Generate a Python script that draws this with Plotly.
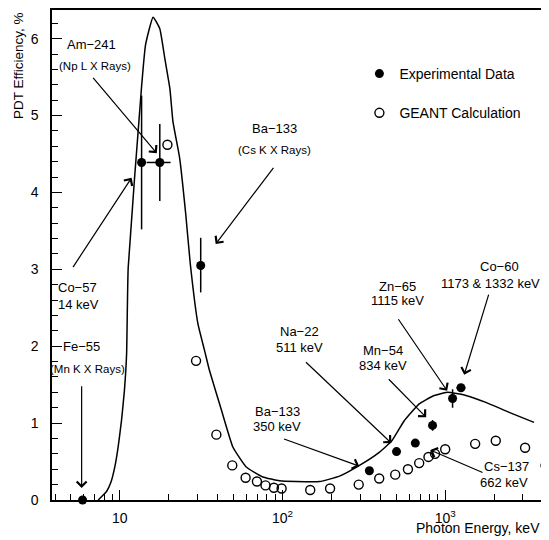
import plotly.graph_objects as go

# ---------------- data ----------------
curve_energy = [7.36, 7.90, 8.28, 8.81, 9.31, 9.79, 10.24, 10.66, 11.0, 11.25, 13.6, 14.38, 16.0,
                17.6, 18.9, 20.3, 21.2, 23.3, 25.4, 27.1, 30.2, 33.2, 35.6, 42.1, 49.5, 59.8,
                75.7, 95.9, 121, 169, 224, 297, 393, 470, 560, 692, 836, 1028, 1340, 1778,
                2472, 3516]
curve_eff = [0.0, 0.065, 0.11, 0.23, 0.43, 0.71, 1.04, 1.42, 1.90, 3.02, 5.38, 5.92, 6.28,
             6.13, 5.74, 5.35, 4.92, 4.45, 3.72, 3.07, 2.29, 1.94, 1.68, 1.17, 0.69, 0.43,
             0.30, 0.25, 0.24, 0.24, 0.31, 0.45, 0.62, 0.77, 1.03, 1.25, 1.35, 1.40, 1.36, 1.27,
             1.14, 1.01]

exp_energy = [5.9, 13.6, 17.6, 31.4, 342, 502, 655, 836, 1110, 1250]
exp_eff = [0.0, 4.39, 4.39, 3.05, 0.38, 0.63, 0.74, 0.97, 1.32, 1.46]
exp_err_y_plus = [0, 0.87, 0.50, 0.36, 0, 0, 0, 0.07, 0.12, 0]
exp_err_y_minus = [0, 0.87, 0.50, 0.35, 0, 0, 0, 0.07, 0.12, 0]
exp_err_x_plus = [0, 0, 2.9, 0, 0, 0, 0, 0, 0, 82]
exp_err_x_minus = [0, 0, 3.0, 0, 0, 0, 0, 0, 0, 77]

geant_energy = [19.6, 29.4, 39.2, 49.1, 59.3, 69.6, 78.6, 88.5, 98.7, 148, 196, 294, 393,
                493, 590, 692, 789, 866, 1000, 1528, 2046, 3098, 4140]
geant_eff = [4.62, 1.81, 0.85, 0.45, 0.29, 0.24, 0.19, 0.16, 0.15, 0.13, 0.15, 0.20, 0.28,
             0.33, 0.40, 0.48, 0.56, 0.60, 0.66, 0.73, 0.77, 0.68, 0.45]

x_tick_vals = [10, 100, 1000]
x_tick_text = ["10", "10<sup>2</sup>", "10<sup>3</sup>"]
x_minor_vals = [4, 5, 6, 7, 8, 9, 20, 30, 40, 50, 60, 70, 80, 90,
                200, 300, 400, 500, 600, 700, 800, 900, 2000, 3000, 4000]
y_tick_vals = [0, 1, 2, 3, 4, 5, 6]

# labels: text, and (log10 x, y, font size)
label_texts = ["Am−241", "(Np L X Rays)", "Ba−133", "(Cs K X Rays)", "Co−57", "14 keV",
               "Fe−55", "(Mn K X Rays)", "Ba−133", "350 keV", "Na−22", "511 keV",
               "Mn−54", "834 keV", "Zn−65", "1115 keV", "Co−60", "1173 & 1332 keV",
               "Cs−137", "662 keV"]
label_pos = [(0.828, 5.93, 13), (0.847, 5.65, 11.5), (1.951, 4.83, 13), (1.951, 4.55, 11.5),
             (0.742, 2.76, 13), (0.748, 2.54, 13), (0.767, 2.00, 13), (0.798, 1.70, 11.5),
             (1.969, 1.15, 13), (1.969, 0.95, 13), (2.104, 2.19, 13), (2.104, 1.99, 13),
             (2.620, 1.94, 13), (2.620, 1.75, 13), (2.706, 2.78, 13), (2.706, 2.59, 13),
             (3.331, 3.04, 13), (3.276, 2.82, 13), (3.374, 0.43, 13), (3.362, 0.23, 13)]

# arrows: (head log10 x, head y, tail log10 x, tail y)
arrows = [(1.227, 4.51, 0.828, 5.51), (1.589, 3.33, 1.951, 4.34), (1.072, 4.19, 0.706, 3.01),
          (0.765, 0.155, 0.765, 1.50), (2.472, 0.44, 2.000, 0.80), (2.669, 0.74, 2.135, 1.81),
          (2.883, 1.075, 2.644, 1.59), (3.012, 1.42, 2.706, 2.37), (3.117, 1.63, 3.270, 2.69),
          (2.908, 0.65, 3.239, 0.35)]

FONT = "Liberation Sans, Arial, Helvetica, sans-serif"

fig = go.Figure()

fig.add_trace(go.Scatter(x=curve_energy, y=curve_eff, mode="lines",
                         line=dict(color="black", width=1.5, shape="spline", smoothing=0.4),
                         showlegend=False, hoverinfo="skip"))

fig.add_trace(go.Scatter(
    x=exp_energy, y=exp_eff, mode="markers", name="Experimental Data",
    marker=dict(symbol="circle", size=9, color="black"),
    error_y=dict(type="data", symmetric=False, array=exp_err_y_plus,
                 arrayminus=exp_err_y_minus, color="black", thickness=1.5, width=0),
    error_x=dict(type="data", symmetric=False, array=exp_err_x_plus,
                 arrayminus=exp_err_x_minus, color="black", thickness=1.5, width=0),
    cliponaxis=False, legendgroup="a"))

fig.add_trace(go.Scatter(
    x=geant_energy, y=geant_eff, mode="markers", name="GEANT Calculation",
    marker=dict(symbol="circle-open", size=9, color="black", line=dict(width=1.4)),
    legendgroup="b"))

annotations = []
for t, (lx, ly, fs) in zip(label_texts, label_pos):
    annotations.append(dict(text=t, x=lx, y=ly, xref="x", yref="y", showarrow=False,
                            font=dict(size=fs, color="black", family=FONT),
                            xanchor="center", yanchor="middle"))
for hx, hy, tx, ty in arrows:
    annotations.append(dict(text="", x=hx, y=hy, ax=tx, ay=ty, xref="x", yref="y",
                            axref="x", ayref="y", showarrow=True, arrowhead=4,
                            arrowsize=1.6, arrowwidth=1.2, arrowcolor="black"))

annotations.append(dict(text="PDT Efficiency, %", textangle=-90, x=-0.0665, y=0.886,
                        xref="paper", yref="paper", showarrow=False,
                        font=dict(size=13.5, color="black", family=FONT),
                        xanchor="center", yanchor="middle"))
annotations.append(dict(text="Photon Energy, keV", x=0.99, y=-0.058,
                        xref="paper", yref="paper", showarrow=False,
                        font=dict(size=14, color="black", family=FONT),
                        xanchor="right", yanchor="middle"))

fig.update_layout(
    width=541, height=532,
    margin=dict(l=44, r=1, t=0, b=40),
    paper_bgcolor="white", plot_bgcolor="white",
    font=dict(family=FONT, color="black", size=14),
    showlegend=True,
    legend=dict(x=0.621, y=0.902, xanchor="left", yanchor="top",
                bgcolor="rgba(0,0,0,0)", traceorder="grouped", tracegroupgap=18,
                font=dict(size=14, family=FONT, color="black")),
    annotations=annotations,
    xaxis=dict(type="log", range=[0.5828, 3.6258], showgrid=False, zeroline=False,
               showline=True, linecolor="black", linewidth=1.5, mirror=True,
               ticks="inside", ticklen=10, tickwidth=1.2, tickcolor="black",
               tickmode="array", tickvals=x_tick_vals, ticktext=x_tick_text,
               ticklabelstandoff=4,
               minor=dict(tickmode="array", tickvals=x_minor_vals, ticks="inside",
                          ticklen=6, tickwidth=1, tickcolor="black", showgrid=False)),
    yaxis=dict(range=[0, 6.373], showgrid=False, zeroline=False,
               showline=True, linecolor="black", linewidth=1.5, mirror=True,
               ticks="inside", ticklen=10, tickwidth=1.2, tickcolor="black",
               tickmode="array", tickvals=y_tick_vals, ticklabelstandoff=9,
               minor=dict(dtick=0.2, ticks="inside", ticklen=6, tickwidth=1,
                          tickcolor="black", showgrid=False)),
)

fig.write_html("out.html")
